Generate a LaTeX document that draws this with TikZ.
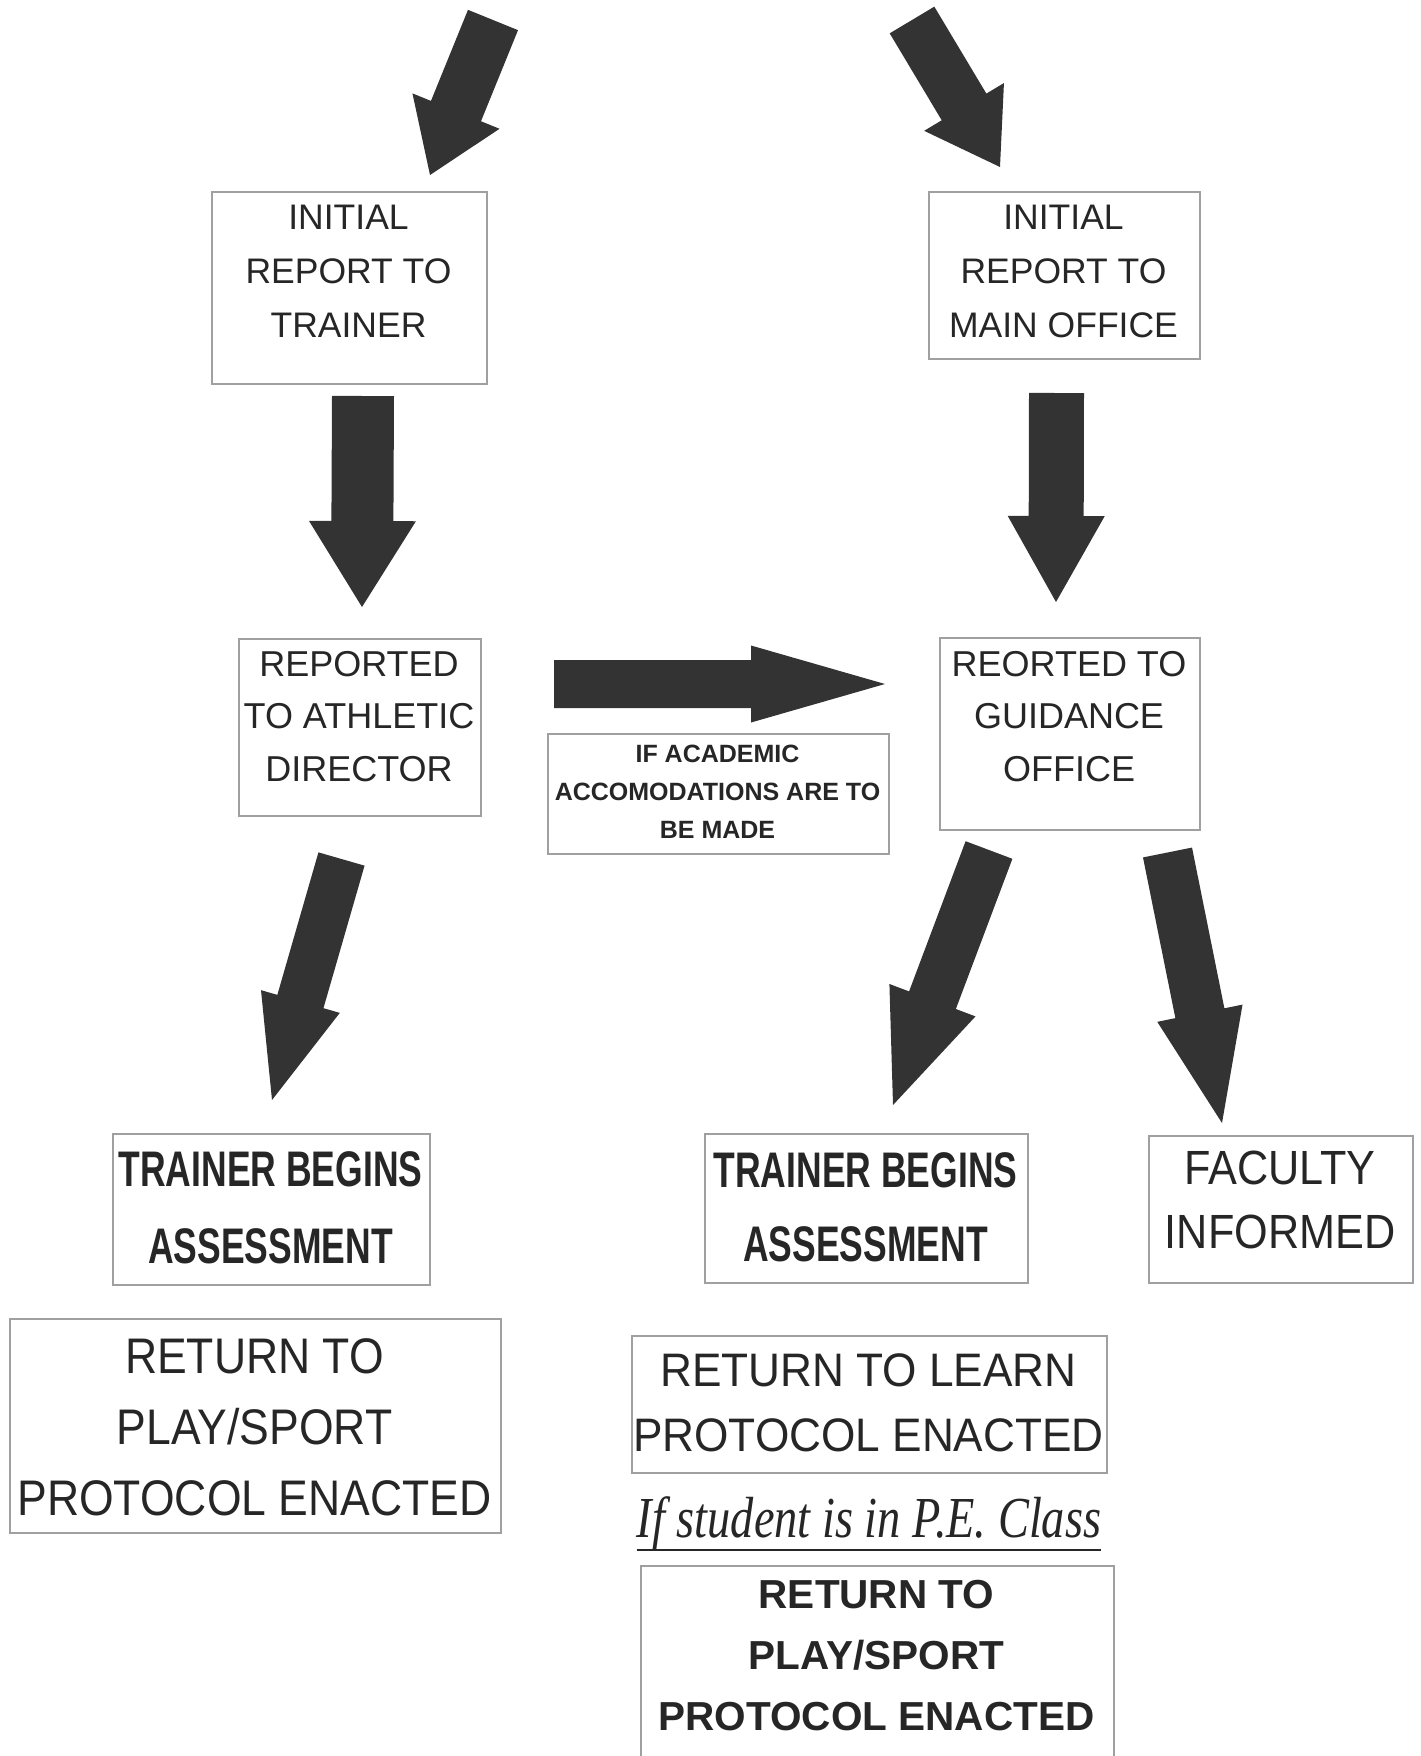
\documentclass[tikz,border=0pt]{standalone}
\usepackage{fontspec}
\setmainfont{Liberation Sans}
\newfontfamily\condA[FakeStretch=0.71]{Liberation Sans}
\newfontfamily\condB[FakeStretch=0.90]{Liberation Sans}
\newfontfamily\condC[FakeStretch=0.89]{Liberation Sans}
\newfontfamily\condD[FakeStretch=0.94]{Liberation Sans}
\newfontfamily\timesit[FakeStretch=0.80]{Liberation Serif}
\usetikzlibrary{calc}
\definecolor{arrowgray}{HTML}{333333}
\definecolor{boxgray}{HTML}{A0A0A0}
\definecolor{ink}{HTML}{262626}
\tikzset{
  frame/.style={draw=boxgray, line width=1.6pt, inner sep=0pt, anchor=north west},
  txt/.style={align=center, inner sep=0pt, anchor=north, text=ink},
  blockarrow/.style={fill=arrowgray}
}
\newcommand{\bigarrow}[5]{%
  \coordinate (h) at ($(#2)!#5!(#1)$);
  \fill[blockarrow] ($(#1)!#3!90:(#2)$) -- ($(h)!#3!90:(#2)$) -- ($(h)!#4!90:(#2)$) -- (#2)
    -- ($(h)!#4!-90:(#2)$) -- ($(h)!#3!-90:(#2)$) -- ($(#1)!#3!-90:(#2)$) -- cycle;}
\begin{document}
\begin{tikzpicture}[x=1pt, y=-1pt]
\useasboundingbox (0,0) rectangle (1421,1756);
\clip (0,0) rectangle (1421,1756);
\fill[white] (0,0) rectangle (1421,1756);

% frames
\node[frame, minimum width=275pt, minimum height=192pt] (b1) at (211,191) {};
\node[frame, minimum width=271pt, minimum height=167pt] (b2) at (928,191) {};
\node[frame, minimum width=242pt, minimum height=177pt] (b3) at (238,638) {};
\node[frame, minimum width=341pt, minimum height=120pt] (b4) at (547,733) {};
\node[frame, minimum width=260pt, minimum height=192pt] (b5) at (939,637) {};
\node[frame, minimum width=317pt, minimum height=151pt] (b6) at (112,1133) {};
\node[frame, minimum width=323pt, minimum height=149pt] (b7) at (704,1133) {};
\node[frame, minimum width=264pt, minimum height=147pt] (b8) at (1148,1135) {};
\node[frame, minimum width=491pt, minimum height=214pt] (b9) at (9,1318) {};
\node[frame, minimum width=475pt, minimum height=137pt] (b10) at (631,1335) {};
\node[frame, minimum width=473pt, minimum height=220pt] (b11) at (640,1565) {};

% texts
\node[txt, font=\fontsize{35.5}{54}\selectfont] (t1) at (348.5,205) {INITIAL\\REPORT TO\\TRAINER};
\node[txt, font=\fontsize{35.5}{54}\selectfont] (t2) at (1063.5,205) {INITIAL\\REPORT TO\\MAIN OFFICE};
\node[txt, font=\fontsize{36}{52.5}\selectfont] (t3) at (359,651) {REPORTED\\TO ATHLETIC\\DIRECTOR};
\node[txt, font=\fontsize{25}{38}\selectfont\bfseries] (t4) at (717.5,745) {IF ACADEMIC\\ACCOMODATIONS ARE TO\\BE MADE};
\node[txt, font=\fontsize{36}{52.5}\selectfont] (t5) at (1069,651) {REORTED TO\\GUIDANCE\\OFFICE};
\node[txt, font=\condA\fontsize{50}{77}\selectfont\bfseries] (t6) at (270.5,1151) {TRAINER BEGINS\\ASSESSMENT};
\node[txt, font=\condA\fontsize{50}{74}\selectfont\bfseries] (t7) at (865.5,1152) {TRAINER BEGINS\\ASSESSMENT};
\node[txt, font=\condB\fontsize{48}{64}\selectfont] (t8) at (1280,1151) {FACULTY\\INFORMED};
\node[txt, font=\condC\fontsize{50}{71}\selectfont] (t9) at (254.5,1338) {RETURN TO\\PLAY/SPORT\\PROTOCOL ENACTED};
\node[txt, font=\condD\fontsize{47}{65}\selectfont] (t10) at (868.5,1353) {RETURN TO LEARN\\PROTOCOL ENACTED};
\node[txt, font=\fontsize{40.5}{61}\selectfont\bfseries] (t11) at (876.5,1580) {RETURN TO\\PLAY/SPORT\\PROTOCOL ENACTED};
\node[inner sep=0pt, anchor=base, text=ink, font=\timesit\itshape\fontsize{58}{60}\selectfont] (it) at (869,1537) {If student is in P.E. Class};
\draw[ink, line width=2.5pt] ([yshift=-13pt]it.base west) -- ([yshift=-13pt]it.base east);

% arrow end points
\coordinate (a1s) at (493,20);     \coordinate (a1e) at (430,175);
\coordinate (a2s) at (912,20);     \coordinate (a2e) at (1000,167);
\coordinate (a3s) at (363,396);    \coordinate (a3e) at (362,607);
\coordinate (a4s) at (1056.5,393); \coordinate (a4e) at (1056,602);
\coordinate (a5s) at (554,684);    \coordinate (a5e) at (885,684);
\coordinate (a6s) at (341.5,859);  \coordinate (a6e) at (272,1100);
\coordinate (a7s) at (989,850);    \coordinate (a7e) at (893,1105);
\coordinate (a8s) at (1167.5,852.5); \coordinate (a8e) at (1222,1123);

\bigarrow{a1s}{a1e}{27pt}{47pt}{69pt}
\bigarrow{a2s}{a2e}{26pt}{46.5pt}{70pt}
\bigarrow{a3s}{a3e}{31pt}{53.5pt}{86pt}
\bigarrow{a4s}{a4e}{27.5pt}{48.5pt}{86pt}
\bigarrow{a5s}{a5e}{24pt}{38.5pt}{134pt}
\bigarrow{a6s}{a6e}{24pt}{41pt}{102.5pt}
\bigarrow{a7s}{a7e}{25pt}{46pt}{112pt}
\bigarrow{a8s}{a8e}{25pt}{43.5pt}{112pt}
\end{tikzpicture}
\end{document}
